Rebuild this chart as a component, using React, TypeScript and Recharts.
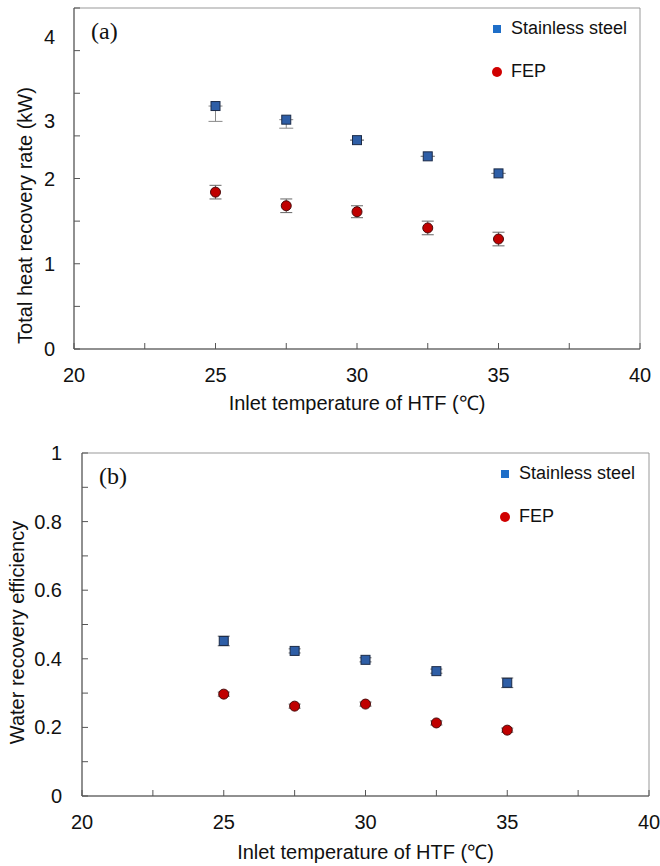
import { ScatterChart, Scatter, XAxis, YAxis, ErrorBar, ReferenceArea, Legend, Label } from 'recharts';

const temps = [25, 27.5, 30, 32.5, 35];

const heatSteel = [2.85, 2.69, 2.45, 2.26, 2.06];
const heatSteelErr = [[0.18, 0], [0.1, 0], [0, 0], [0, 0], [0, 0]];
const heatFep = [1.84, 1.68, 1.61, 1.42, 1.29];
const heatFepErr = [0.08, 0.08, 0.07, 0.08, 0.08];

const waterSteel = [0.452, 0.423, 0.397, 0.364, 0.33];
const waterSteelErr = [0.014, 0.006, 0.006, 0.006, 0.014];
const waterFep = [0.297, 0.262, 0.268, 0.213, 0.192];
const waterFepErr = [0.006, 0.006, 0.006, 0.006, 0.006];

const seriesNames = ['Stainless steel', 'FEP'];

const xTicks = [20, 22.5, 25, 27.5, 30, 32.5, 35, 37.5, 40];
const xLabels = [20, 25, 30, 35, 40];
const heatTicks = [0, 0.5, 1, 1.5, 2, 2.5, 3, 3.5, 4];
const heatLabels = [0, 1, 2, 3, 4];
const waterTicks = [0, 0.1, 0.2, 0.3, 0.4, 0.5, 0.6, 0.7, 0.8, 0.9, 1];
const waterLabels = [0, 0.2, 0.4, 0.6, 0.8, 1];

const FONT = '"Liberation Sans", Arial, sans-serif';
const AXIS = '#555';
const BOX = '#999';
const STEEL = '#2E5EA6';
const FEP = '#C00000';

// the upper tick labels of panel (a) sit lower than their ticks in the original
const heatLabelShift: Record<number, number> = { 3: 28, 4: 29 };

const toRows = (ys: number[], errs: any[]) => temps.map((x, i) => ({ x, y: ys[i], err: errs[i] }));

const squareShape = (p: any) => (
  <rect x={p.cx - 4.5} y={p.cy - 4.5} width={9} height={9} fill={STEEL} stroke="#1b2b48" strokeWidth={1} />
);
const circleShape = (p: any) => (
  <circle cx={p.cx} cy={p.cy} r={5} fill={FEP} stroke="#4a0a0a" strokeWidth={1} />
);

function XTick(props: any) {
  const { x, y, payload } = props;
  const v = payload.value;
  return (
    <g>
      <line x1={x} x2={x} y1={y} y2={y - 6} stroke={AXIS} />
      {xLabels.includes(v) && (
        <text x={x} y={y + 26} textAnchor="middle" dominantBaseline="central" fontFamily={FONT} fontSize={20} fill="#111">
          {v}
        </text>
      )}
    </g>
  );
}

const makeYTick = (labels: number[], gap: number, shift: Record<number, number> = {}) => (props: any) => {
  const { x, y, payload } = props;
  const v = payload.value;
  return (
    <g>
      <line x1={x} x2={x + 6} y1={y} y2={y} stroke={AXIS} />
      {labels.includes(v) && (
        <text x={x - gap} y={y + (shift[v] || 0)} textAnchor="end" dominantBaseline="central" fontFamily={FONT} fontSize={20} fill="#111">
          {v}
        </text>
      )}
    </g>
  );
};

const legendContent = (props: any) => {
  const items = [...(props.payload || [])].sort(
    (a: any, b: any) => seriesNames.indexOf(a.value) - seriesNames.indexOf(b.value)
  );
  return (
    <div style={{ fontFamily: FONT, fontSize: 18, color: '#111' }}>
      {items.map((e: any) => (
        <div key={e.value} style={{ display: 'flex', alignItems: 'center', height: 43 }}>
          <svg width={14} height={12}>
            {e.value === 'FEP' ? (
              <circle cx={6} cy={6} r={5} fill="#D00000" />
            ) : (
              <rect x={2} y={2} width={8} height={8} fill="#1E6EC8" />
            )}
          </svg>
          <span style={{ marginLeft: 6 }}>{e.value}</span>
        </div>
      ))}
    </div>
  );
};

const xTitle = (dy: number) => (p: any) => {
  const vb = p.viewBox;
  return (
    <text x={vb.x + vb.width / 2} y={vb.y + dy} textAnchor="middle" dominantBaseline="central" fontFamily={FONT} fontSize={20} fill="#111">
      Inlet temperature of HTF (℃)
    </text>
  );
};

const yTitle = (text: string, cx: number, shift: number) => (p: any) => {
  const vb = p.viewBox;
  const cy = vb.y + vb.height / 2 + shift;
  return (
    <text x={cx} y={cy} transform={`rotate(-90 ${cx} ${cy})`} textAnchor="middle" dominantBaseline="central" fontFamily={FONT} fontSize={20} fill="#111">
      {text}
    </text>
  );
};

const panelLabel = { position: 'absolute' as const, fontFamily: '"Liberation Serif", "Times New Roman", serif', fontSize: 24, color: '#111' };

export default function App() {
  return (
    <div style={{ position: 'absolute', left: 0, top: 0, width: 660, height: 866, background: '#fff' }}>
      <div style={{ position: 'absolute', left: 0, top: 0 }}>
        <ScatterChart width={660} height={420} margin={{ top: 8, right: 20, bottom: 0, left: 0 }}>
          <XAxis type="number" dataKey="x" domain={[20, 40]} ticks={xTicks} interval={0} height={71}
            tickSize={0} tickMargin={0} tick={<XTick />} axisLine={{ stroke: AXIS }}>
            <Label content={xTitle(54)} />
          </XAxis>
          <YAxis type="number" dataKey="y" domain={[0, 4]} ticks={heatTicks} interval={0} width={74}
            tickSize={0} tickMargin={0} tick={makeYTick(heatLabels, 19, heatLabelShift)} axisLine={{ stroke: AXIS }}>
            <Label content={yTitle('Total heat recovery rate (kW)', 25, 37)} />
          </YAxis>
          <ReferenceArea x1={20} x2={40} y1={0} y2={4} fill="none" stroke={BOX} strokeWidth={1} />
          <Legend layout="vertical" align="center" verticalAlign="middle" content={legendContent}
            wrapperStyle={{ top: 7, left: 491, width: 160 }} />
          <Scatter name="Stainless steel" data={toRows(heatSteel, heatSteelErr)} shape={squareShape} isAnimationActive={false}>
            <ErrorBar dataKey="err" direction="y" width={7} stroke="#888" strokeWidth={1} />
          </Scatter>
          <Scatter name="FEP" data={toRows(heatFep, heatFepErr)} shape={circleShape} isAnimationActive={false}>
            <ErrorBar dataKey="err" direction="y" width={6} stroke="#666" strokeWidth={1} />
          </Scatter>
        </ScatterChart>
        <div style={{ ...panelLabel, left: 91, top: 18 }}>(a)</div>
      </div>
      <div style={{ position: 'absolute', left: 0, top: 420 }}>
        <ScatterChart width={660} height={446} margin={{ top: 33, right: 11, bottom: 0, left: 0 }}>
          <XAxis type="number" dataKey="x" domain={[20, 40]} ticks={xTicks} interval={0} height={70}
            tickSize={0} tickMargin={0} tick={<XTick />} axisLine={{ stroke: AXIS }}>
            <Label content={xTitle(56)} />
          </XAxis>
          <YAxis type="number" dataKey="y" domain={[0, 1]} ticks={waterTicks} interval={0} width={82}
            tickSize={0} tickMargin={0} tick={makeYTick(waterLabels, 20)} axisLine={{ stroke: AXIS }}>
            <Label content={yTitle('Water recovery efficiency', 17, 8)} />
          </YAxis>
          <ReferenceArea x1={20} x2={40} y1={0} y2={1} fill="none" stroke={BOX} strokeWidth={1} />
          <Legend layout="vertical" align="center" verticalAlign="middle" content={legendContent}
            wrapperStyle={{ top: 32, left: 499, width: 160 }} />
          <Scatter name="Stainless steel" data={toRows(waterSteel, waterSteelErr)} shape={squareShape} isAnimationActive={false}>
            <ErrorBar dataKey="err" direction="y" width={6} stroke="#666" strokeWidth={1} />
          </Scatter>
          <Scatter name="FEP" data={toRows(waterFep, waterFepErr)} shape={circleShape} isAnimationActive={false}>
            <ErrorBar dataKey="err" direction="y" width={6} stroke="#666" strokeWidth={1} />
          </Scatter>
        </ScatterChart>
        <div style={{ ...panelLabel, left: 99, top: 43 }}>(b)</div>
      </div>
    </div>
  );
}
